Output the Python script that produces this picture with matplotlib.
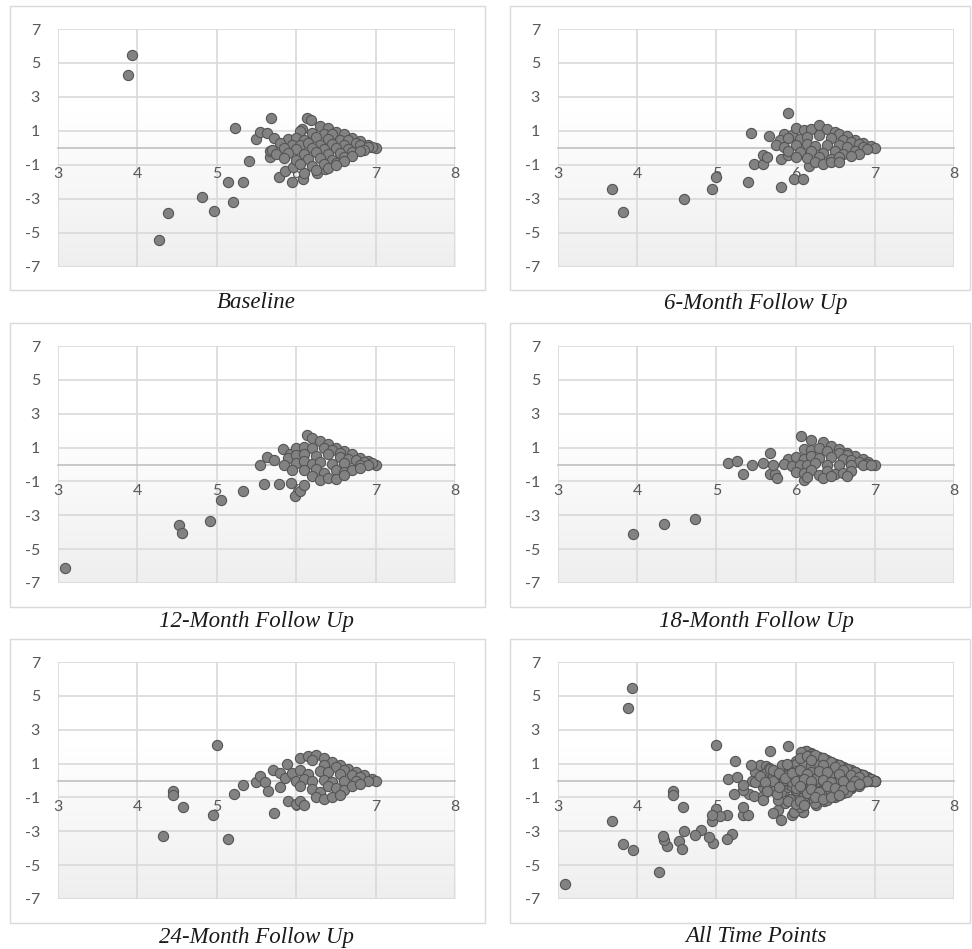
"""
Difference vs. mean scatter panels for each assessment wave, plus pooled panel.
Writes: out.png
"""

import matplotlib
matplotlib.use("Agg")  # no display

import matplotlib.pyplot as plt
import matplotlib.patches as mpatches
import numpy as np

# ---------------------------------------------------------------------------
# Data (mean score on x, difference on y)
# ---------------------------------------------------------------------------
BASE_X = [3.93, 3.88, 4.27, 4.38, 4.81, 4.96, 5.14, 5.20, 5.33, 5.23,
          5.41, 5.49, 5.55, 5.68, 5.63, 5.72, 5.67, 5.67, 5.78, 5.86,
          5.95, 6.09, 6.10, 5.96, 6.13, 6.19, 6.07, 6.26, 6.36,
          6.30, 6.40, 6.50, 6.60, 6.70, 6.80, 6.90, 7.00, 6.95,
          6.05, 6.20, 6.35, 6.45,
          5.90, 6.00, 6.10, 6.25, 6.40, 6.55, 6.65, 6.75,
          5.80, 5.95, 6.05, 6.15, 6.30, 6.45, 6.60, 6.80, 6.90,
          5.70, 5.85, 6.00, 6.20, 6.35, 6.50, 6.65, 6.85,
          5.75, 5.90, 6.10, 6.25, 6.40, 6.55, 6.70, 6.80,
          5.85, 6.00, 6.15, 6.30, 6.45, 6.60, 6.70,
          6.05, 6.20, 6.35, 6.50, 6.60,
          6.25, 6.40, 6.50]
BASE_Y = [5.47, 4.27, -5.41, -3.84, -2.90, -3.69, -2.02, -3.18, -2.02, 1.18,
          -0.78, 0.51, 0.92, 1.76, 0.86, 0.61, -0.55, -0.20, -1.73, -1.33,
          -2.02, -1.84, -1.45, -1.10, 1.76, 1.65, 1.12, -1.45, -1.24,
          1.30, 1.15, 0.95, 0.80, 0.60, 0.40, 0.20, 0.00, 0.05,
          1.00, 0.90, 0.85, 0.80,
          0.55, 0.60, 0.50, 0.65, 0.55, 0.50, 0.45, 0.30,
          0.30, 0.20, 0.15, 0.30, 0.20, 0.25, 0.15, 0.15, 0.05,
          -0.10, 0.00, -0.05, 0.00, -0.05, 0.00, -0.05, -0.10,
          -0.35, -0.30, -0.35, -0.25, -0.35, -0.30, -0.25, -0.20,
          -0.60, -0.70, -0.65, -0.60, -0.70, -0.55, -0.45,
          -0.95, -1.05, -0.95, -0.90, -0.75,
          -1.30, -1.15, -1.00]

M6_X = [5.90, 5.44, 5.67, 3.68, 3.82, 4.59, 4.94, 4.99, 5.40, 5.82,
        5.98, 6.09, 5.48, 5.59, 5.59, 5.64, 5.82, 6.17, 5.90,
        5.85, 5.95, 6.00, 6.10, 6.20, 6.30, 6.40, 6.50, 6.55, 6.65, 6.75, 6.85, 6.95, 7.00,
        5.80, 5.90, 6.05, 6.15, 6.30, 6.45, 6.60, 6.70, 6.80,
        5.75, 5.85, 6.00, 6.15, 6.25, 6.40, 6.55, 6.65, 6.85, 6.90,
        5.90, 6.05, 6.20, 6.35, 6.50, 6.60, 6.75, 6.80,
        6.00, 6.15, 6.30, 6.45, 6.55, 6.70,
        6.25, 6.35, 6.45, 6.55]
M6_Y = [2.04, 0.90, 0.71, -2.41, -3.76, -3.00, -2.41, -1.70, -2.02, -2.31,
        -1.84, -1.84, -0.94, -0.94, -0.41, -0.55, -0.67, -1.04, -0.41,
        0.85, 0.75, 1.15, 1.05, 1.10, 1.35, 1.10, 0.95, 0.85, 0.70, 0.50, 0.30, 0.10, 0.00,
        0.45, 0.60, 0.55, 0.65, 0.75, 0.60, 0.50, 0.35, 0.25,
        0.15, 0.05, 0.20, 0.25, 0.10, 0.20, 0.15, 0.05, 0.05, -0.05,
        -0.20, -0.25, -0.15, -0.30, -0.20, -0.35, -0.20, -0.35,
        -0.55, -0.60, -0.50, -0.65, -0.55, -0.45,
        -0.85, -0.95, -0.85, -0.85]

M12_X = [3.09, 4.53, 4.56, 4.91, 5.05, 5.33, 5.59, 5.78, 5.93, 5.98,
         6.05, 6.10, 5.55, 5.63, 5.72, 5.83, 6.13, 5.92,
         6.20, 6.30, 6.40, 6.50, 6.60, 6.70, 6.80, 6.90, 7.00, 6.95,
         6.00, 6.10, 6.20, 6.35, 6.45, 6.55,
         5.90, 6.00, 6.10, 6.25, 6.40, 6.55, 6.65, 6.75, 6.85,
         5.85, 6.00, 6.10, 6.20, 6.30, 6.45, 6.60, 6.80, 6.90,
         5.95, 6.10, 6.25, 6.35, 6.50, 6.60, 6.70, 6.80,
         6.20, 6.30, 6.40, 6.50, 6.60]
M12_Y = [-6.12, -3.56, -4.02, -3.31, -2.07, -1.56, -1.14, -1.14, -1.08, -1.87,
         -1.54, -1.24, 0.00, 0.43, 0.24, 0.91, 1.77, 0.63,
         1.55, 1.40, 1.20, 1.00, 0.80, 0.60, 0.40, 0.20, 0.00, 0.10,
         1.00, 1.05, 0.95, 1.00, 0.85, 0.70,
         0.40, 0.55, 0.60, 0.50, 0.60, 0.45, 0.35, 0.25, 0.15,
         -0.05, 0.10, 0.20, 0.05, 0.15, 0.05, 0.10, 0.00, -0.05,
         -0.30, -0.35, -0.25, -0.50, -0.35, -0.45, -0.30, -0.20,
         -0.70, -0.90, -0.80, -0.85, -0.60]

M18_X = [3.95, 4.34, 4.73, 5.15, 5.26, 5.33, 5.45, 5.59, 5.68, 5.68,
         5.74, 5.76, 5.72, 6.07, 6.10,
         6.20, 6.35, 6.45, 6.55, 6.65, 6.75, 6.85, 6.92, 7.00,
         6.10, 6.20, 6.30, 6.40, 6.55, 6.65,
         5.90, 6.00, 6.10, 6.20, 6.30, 6.45, 6.60, 6.70, 6.80, 6.90,
         5.85, 5.95, 6.05, 6.15, 6.25, 6.40, 6.55, 6.70, 6.85, 6.95,
         6.00, 6.10, 6.20, 6.30, 6.40, 6.50, 6.60, 6.70,
         6.15, 6.35, 6.45, 6.65]
M18_Y = [-4.09, -3.50, -3.21, 0.08, 0.20, -0.57, 0.00, 0.08, 0.69, -0.55,
         -0.59, -0.81, 0.00, 1.67, -0.89,
         1.45, 1.30, 1.10, 0.90, 0.70, 0.50, 0.30, 0.15, 0.00,
         0.90, 0.85, 0.95, 0.80, 0.70, 0.55,
         0.35, 0.45, 0.35, 0.50, 0.40, 0.45, 0.35, 0.25, 0.15, 0.05,
         0.05, -0.10, 0.00, -0.05, 0.10, 0.00, -0.05, 0.00, -0.05, -0.02,
         -0.45, -0.50, -0.35, -0.60, -0.40, -0.55, -0.50, -0.40,
         -0.75, -0.80, -0.70, -0.65]

M24_X = [5.00, 4.32, 4.45, 4.45, 4.58, 4.95, 5.14, 5.22, 5.33, 5.49,
         5.55, 5.61, 5.64, 5.72, 5.71, 5.79, 5.90, 6.00, 6.05, 6.10,
         5.89, 5.79, 5.86,
         6.05, 6.15, 6.25, 6.35, 6.45, 6.55, 6.65, 6.75, 6.85, 6.95, 7.00,
         6.20, 6.35, 6.50, 6.60,
         5.95, 6.05, 6.15, 6.30, 6.40, 6.55, 6.70, 6.80,
         6.00, 6.10, 6.20, 6.35, 6.45, 6.60, 6.75, 6.90,
         6.05, 6.20, 6.30, 6.40, 6.50, 6.60, 6.70, 6.80,
         6.25, 6.35, 6.45, 6.55]
M24_Y = [2.07, -3.29, -0.61, -0.85, -1.54, -2.03, -3.45, -0.77, -0.28, -0.06,
         0.24, -0.06, -0.61, -1.93, 0.63, 0.43, -1.20, -1.40, -1.24, -1.44,
         0.97, -0.36, 0.14,
         1.35, 1.45, 1.50, 1.30, 1.10, 0.90, 0.70, 0.50, 0.30, 0.10, 0.00,
         1.20, 0.90, 0.80, 0.60,
         0.45, 0.60, 0.40, 0.55, 0.50, 0.40, 0.30, 0.20,
         0.00, 0.10, -0.05, 0.05, -0.10, 0.00, -0.05, 0.00,
         -0.35, -0.50, -0.65, -0.30, -0.45, -0.55, -0.35, -0.20,
         -0.95, -1.10, -0.95, -0.85]

# pooled panel = every wave together
ALL_X = BASE_X + M6_X + M12_X + M18_X + M24_X
ALL_Y = BASE_Y + M6_Y + M12_Y + M18_Y + M24_Y

X_TICKS = [3, 4, 5, 6, 7, 8]
Y_TICKS = [-7, -5, -3, -1, 1, 3, 5, 7]
Y_TICK_LABELS = ["-7", "-5", "-3", "-1", "1", "3", "5", "7"]

PANELS = [
    ("Baseline", BASE_X, BASE_Y),
    ("6-Month Follow Up", M6_X, M6_Y),
    ("12-Month Follow Up", M12_X, M12_Y),
    ("18-Month Follow Up", M18_X, M18_Y),
    ("24-Month Follow Up", M24_X, M24_Y),
    ("All Time Points", ALL_X, ALL_Y),
]

# ---------------------------------------------------------------------------
# Layout (pixels)
# ---------------------------------------------------------------------------
W, H = 972, 949
COL_PLOT = [(58, 455), (558, 954)]
COL_BOX = [(10, 485), (510, 970)]
ROW_PLOT = [(29, 267), (346, 583), (662, 899)]
ROW_BOX = [(6, 290), (323, 607), (639, 923)]
ROW_CAPTION = [303, 622, 937]

GRID = "#d9d9d9"
TEXT = "#595959"

# plot-area fill: white at the top fading to light grey at the bottom
shade = np.clip((2.0 - np.linspace(7, -7, 200)) / 9.0, 0, 1)
grad = 1.0 - 0.065 * shade
grad_img = np.stack([grad, grad, grad], axis=-1)[:, None, :].repeat(2, axis=1)

fig = plt.figure(figsize=(W / 100, H / 100), dpi=100)
fig.patch.set_facecolor("white")

for i, (title, xs, ys) in enumerate(PANELS):
    row, col = divmod(i, 2)
    x1, x2 = COL_PLOT[col]
    y1, y2 = ROW_PLOT[row]

    # outer chart border
    bx1, bx2 = COL_BOX[col]
    by1, by2 = ROW_BOX[row]
    fig.add_artist(mpatches.Rectangle(
        (bx1 / W, 1 - by2 / H), (bx2 - bx1) / W, (by2 - by1) / H,
        transform=fig.transFigure, fill=False, edgecolor=GRID, linewidth=1.0,
    ))

    ax = fig.add_axes([x1 / W, 1 - y2 / H, (x2 - x1) / W, (y2 - y1) / H])
    ax.imshow(grad_img, extent=[3, 8, -7, 7], aspect="auto", zorder=0,
              interpolation="bilinear")
    ax.set_xlim(3, 8)
    ax.set_ylim(-7, 7)

    ax.set_xticks(X_TICKS)
    ax.set_xticklabels([str(t) for t in X_TICKS])
    ax.set_yticks(Y_TICKS)
    ax.set_yticklabels(Y_TICK_LABELS)
    ax.grid(True, color=GRID, linewidth=1.2)

    for side in ("top", "right", "left"):
        ax.spines[side].set_visible(False)
    ax.spines["bottom"].set_position(("data", 0))
    ax.spines["bottom"].set_color("#bfbfbf")
    ax.spines["bottom"].set_linewidth(1.2)

    ax.tick_params(axis="x", length=0, pad=14, labelsize=11.5, labelcolor=TEXT)
    ax.tick_params(axis="y", length=0, pad=13, labelsize=11.5, labelcolor=TEXT)
    for lbl in ax.get_xticklabels() + ax.get_yticklabels():
        lbl.set_fontfamily("Lato")

    ax.scatter(xs, ys, s=54, facecolor="#828282", edgecolor="#555555",
               linewidth=0.8, zorder=3, clip_on=False)

    fig.text((x1 + x2) / 2 / W, 1 - ROW_CAPTION[row] / H, title,
             ha="center", va="center", fontsize=16.5, style="italic",
             family="Liberation Serif", color="#1a1a1a")

fig.savefig("out.png", dpi=100, facecolor="white")
